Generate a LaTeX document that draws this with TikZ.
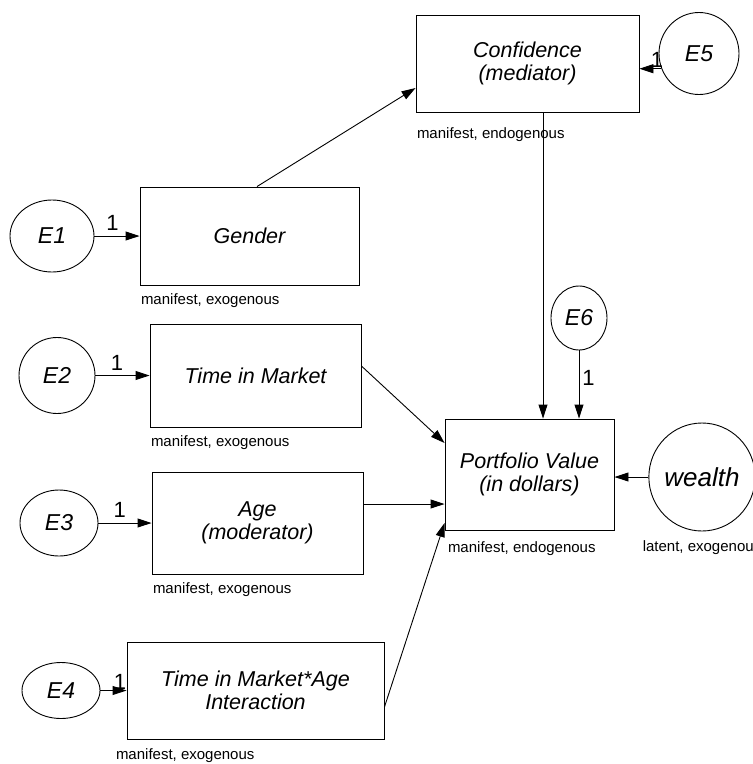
\documentclass[tikz,border=0pt]{standalone}
\usepackage{fontspec}
\setmainfont{Liberation Sans}
\usetikzlibrary{calc, arrows.meta, shapes.geometric}

\begin{document}
\begin{tikzpicture}[x=1pt, y=-1pt, line width=0.9pt,
    obsbox/.style={draw, rectangle, inner sep=0pt, align=center,
        font=\fontsize{21.5}{23.5}\selectfont\itshape},
    errnode/.style={draw, ellipse, inner sep=0pt, font=\fontsize{23}{25}\selectfont\itshape},
    tag/.style={font=\fontsize{15}{17}\selectfont, inner sep=1pt},
    one/.style={font=\fontsize{22}{24}\selectfont, inner sep=5pt},
    path/.style={-{Triangle[length=14pt, width=9pt]}}]
    \useasboundingbox (0,0) rectangle (753,764);

    % boxes
    \node[obsbox, minimum width=223, minimum height=97] (conf) at (527.5,63.5) {Confidence\\(mediator)};
    \node[obsbox, minimum width=219, minimum height=98] (gender) at (249.5,236) {Gender};
    \node[obsbox, minimum width=211, minimum height=103] (tim) at (255.5,375.5) {Time in Market};
    \node[obsbox, minimum width=211, minimum height=102] (age) at (257.5,523) {Age\\(moderator)};
    \node[obsbox, minimum width=257, minimum height=97] (inter) at (255.5,690.5) {Time in Market*Age\\Interaction};
    \node[obsbox, minimum width=169, minimum height=111] (port) at (529.5,474.5) {Portfolio Value\\(in dollars)};

    % error terms and latent
    \node[errnode, minimum width=84, minimum height=72] (E1) at (52,236) {E1};
    \node[errnode, minimum width=76, minimum height=76] (E2) at (57,375.5) {E2};
    \node[errnode, minimum width=78, minimum height=66] (E3) at (59,523) {E3};
    \node[errnode, minimum width=78, minimum height=56] (E4) at (61,690.5) {E4};
    \node[errnode, minimum width=80, minimum height=82] (E5) at (699,53.5) {E5};
    \node[errnode, minimum width=56, minimum height=64] (E6) at (579,318) {E6};
    \node[errnode, minimum width=106, minimum height=108, font=\fontsize{26}{28}\selectfont\itshape] (wealth) at (702,477) {wealth};

    % type labels
    \node[tag, anchor=north west] (tconf) at ([yshift=-14pt]conf.south west) {manifest, endogenous};
    \foreach \b in {gender, tim, age}
        \node[tag, anchor=north west] (t\b) at ([yshift=-7pt]\b.south west) {manifest, exogenous};
    \node[tag, anchor=north west] (tinter) at ([xshift=-12pt, yshift=-8pt]inter.south west) {manifest, exogenous};
    \node[tag, anchor=north west] (tport) at ([xshift=2pt, yshift=-10pt]port.south west) {manifest, endogenous};
    \node[tag, anchor=north] (twealth) at ([yshift=-8pt]wealth.south) {latent, exogenous};

    % error paths
    \draw[path] (E1) -- node[one, pos=0.4, above] {1} (gender);
    \draw[path] (E2) -- node[one, pos=0.4, above] {1} (tim);
    \draw[path] (E3) -- node[one, pos=0.4, above] {1} (age);
    \draw[path] (E4) -- node[one, pos=0.75, above, inner sep=1pt] {1} (inter);
    \draw[path] (E5.202) -- node[one, pos=0.2, above, inner sep=1pt] {1} (E5.202 -| conf.east);
    \draw[path] (E6.south) -- node[one, pos=0.4, right, inner sep=3pt] {1} (E6.south |- port.north);
    \draw[path] (wealth.west) -- (wealth.west -| port.east);

    % structural paths
    \draw[path] ([xshift=7.5pt]gender.north) -- ([yshift=-24.5pt]conf.west);
    \draw[path] ([xshift=15.5pt]conf.south) -- ([xshift=15.5pt]conf.south |- port.north);
    \draw[path] ([yshift=9.5pt]tim.east) -- ([yshift=31.5pt]port.west);
    \draw[path] ([yshift=19pt]age.east) -- ([yshift=-29.5pt]port.west);
    \draw[path] ([yshift=-16.5pt]inter.east) -- ([yshift=-48.5pt]port.west);
\end{tikzpicture}
\end{document}
